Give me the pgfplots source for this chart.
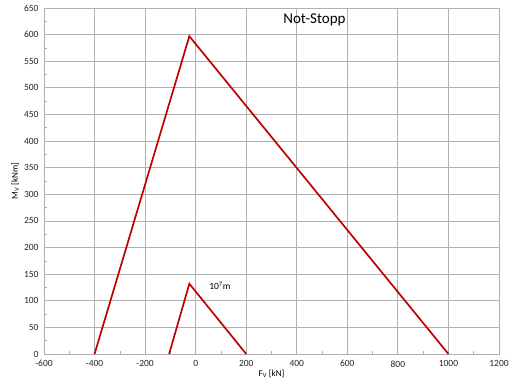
\documentclass[border=0pt]{standalone}
\usepackage{fontspec}
\setmainfont{Carlito}
\usepackage{pgfplots}
\pgfplotsset{compat=1.18}
\definecolor{linered}{HTML}{C00000}
\definecolor{gridgray}{HTML}{B0B0B0}
\begin{document}
\begin{tikzpicture}[x=1bp,y=1bp]
\path[use as bounding box] (-44bp,-36bp) rectangle (466bp,354bp);
\begin{axis}[
  scale only axis,
  width=455bp, height=346bp,
  xmin=-600, xmax=1200, ymin=0, ymax=650,
  xtick={-600,-400,...,1200},
  ytick={0,50,...,650},
  minor xtick={-500,-300,...,1100},
  minor ytick={25,75,...,625},
  grid=major,
  major grid style={gridgray, line width=0.8pt},
  axis line style={gridgray, line width=0.8pt},
  tick style={gridgray, line width=0.6pt},
  major tick length=0pt,
  minor tick length=3bp,
  tick align=inside,
  xtick pos=bottom, ytick pos=left,
  /pgf/number format/assume math mode=true,
  /pgf/number format/1000 sep={},
  ticklabel style={font=\fontsize{9.5bp}{10bp}\selectfont, text=black!85},
  xticklabel style={yshift=-3bp},
  yticklabel style={xshift=-2bp},
  xlabel={F\textsubscript{V} [kN]},
  ylabel={M\textsubscript{V} [kNm]},
  label style={font=\fontsize{9bp}{10bp}\selectfont},
  xlabel style={yshift=4bp},
  ylabel style={yshift=-2bp},
  clip=false,
]
\addplot[linered, line width=1.7pt] coordinates {(-400,0) (-25,597) (1000,0)};
\addplot[linered, line width=1.7pt] coordinates {(-105,0) (-25,132) (200,0)};
\node[anchor=west, font=\fontsize{9.5bp}{10bp}\selectfont] at (axis cs:40,128) {10\textsuperscript{7}m};
\node[font=\fontsize{15bp}{16bp}\selectfont] at (axis cs:470,628) {Not-Stopp};
\end{axis}
\end{tikzpicture}
\end{document}
